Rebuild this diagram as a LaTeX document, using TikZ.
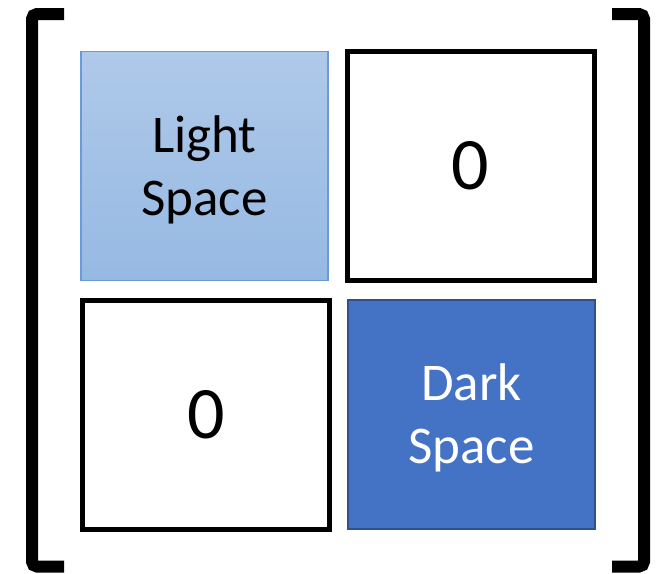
\documentclass[tikz,border=0pt]{standalone}
\usepackage{fontspec}
\setmainfont{Carlito}
\definecolor{lightTop}{HTML}{AFC9E9}
\definecolor{lightBot}{HTML}{96B9E3}
\definecolor{lightEdge}{HTML}{6A9BD8}
\definecolor{darkFill}{HTML}{4472C4}
\definecolor{darkEdge}{HTML}{2F528F}
\begin{document}
\begin{tikzpicture}[x=1pt, y=-1pt,
    cell/.style={minimum width=247pt, minimum height=229pt, inner sep=0pt, align=center},
    zerobox/.style={cell, draw=black, line width=5pt, fill=white, font=\fontsize{74}{80}\selectfont},
    lightbox/.style={cell, draw=lightEdge, line width=1.5pt, top color=lightTop, bottom color=lightBot, font=\fontsize{53}{63}\selectfont, text depth=0pt},
    darkbox/.style={cell, draw=darkEdge, line width=2pt, fill=darkFill, text=white, font=\fontsize{53}{63}\selectfont, text depth=0pt},
    bracket/.style={line width=12pt, rounded corners=5pt}]
  \useasboundingbox (0,0) rectangle (664,573);
  % Brackets of the matrix
  \draw[bracket] (64,14) -- (32,14) -- (32,566.5) -- (64,566.5);
  \draw[bracket] (612,14) -- (644,14) -- (644,566.5) -- (612,566.5);
  % The four blocks
  \node[lightbox] (light) at (204.5,166) {Light\\Space};
  \node[zerobox] (zeroTR) at (470.5,166) {0};
  \node[zerobox] (zeroBL) at (206,414.5) {0};
  \node[darkbox] (dark) at (471.5,414) {Dark\\Space};
\end{tikzpicture}
\end{document}
